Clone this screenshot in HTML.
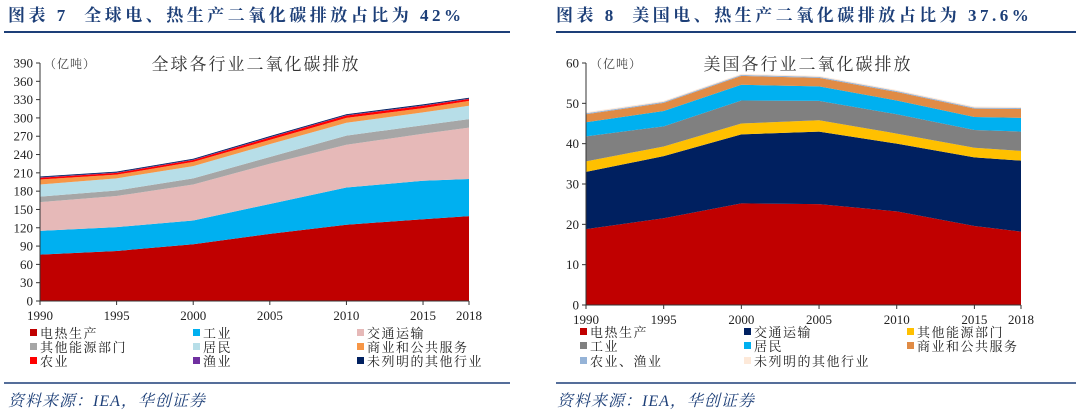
<!DOCTYPE html>
<html><head><meta charset="utf-8"><style>
body{margin:0;background:#fff;width:1080px;height:413px;overflow:hidden;font-family:"Liberation Serif","Noto Serif CJK SC",serif}
svg{position:absolute;left:0;top:0}
</style></head><body>
<svg id="s" width="1080" height="413" font-family="'Liberation Serif','Noto Serif CJK SC',serif">
<text x="8" y="21" font-size="17" font-weight="bold" fill="#1d3f78" letter-spacing="3.5">图表&#160;7&#160;&#160;全球电、热生产二氧化碳排放占比为&#160;42%</text>
<line x1="4" y1="32" x2="510" y2="32" stroke="#1d3f78" stroke-width="2"/>
<text x="556" y="21" font-size="17" font-weight="bold" fill="#1d3f78" letter-spacing="3.5">图表&#160;8&#160;&#160;美国电、热生产二氧化碳排放占比为&#160;37.6%</text>
<line x1="556" y1="32" x2="1076" y2="32" stroke="#1d3f78" stroke-width="2"/>
<line x1="4" y1="383" x2="510" y2="383" stroke="#1d3f78" stroke-width="1.5"/>
<line x1="556" y1="383" x2="1076" y2="383" stroke="#1d3f78" stroke-width="1.5"/>
<text x="8" y="406" font-size="16" font-style="italic" fill="#1d3f78" letter-spacing="1">资料来源：IEA，华创证券</text>
<text x="557" y="406" font-size="16" font-style="italic" fill="#1d3f78" letter-spacing="1">资料来源：IEA，华创证券</text>
</svg>
<script>
const years=[1990,1995,2000,2005,2010,2015,2018];
// Global sectors (亿吨)
const gElec=[76,82,93,110,125,134,139];
const gIndustry=[39,39,39,49,61,63,61];
const gTransport=[47,51,59,66,70,77,84];
const gOtherEnergy=[9,9,10,11,15,14,14];
const gResidential=[20,20,20,21,21,21,22];
const gCommercial=[8,6,7,7,8,7,8];
const gAgri=[3,3,3,4,4,4,3];
const gFishing=[0.6,0.6,0.6,0.6,0.6,0.6,0.6];
const gUnspec=[1.5,1.5,1.5,1.5,1.5,1.5,1.5];
const gTicks=[0,30,60,90,120,150,180,210,240,270,300,330,360,390];
// US sectors (亿吨)
const uElec=[18.8,21.5,25.2,25,23.2,19.6,18.2];
const uTransport=[14.2,15.4,17.1,18,16.8,17,17.6];
const uOtherEnergy=[2.6,2.4,2.7,2.8,2.5,2.4,2.4];
const uIndustry=[6.2,5,5.7,4.8,4.8,4.4,4.8];
const uResidential=[3.5,3.8,3.9,3.6,3.4,3.2,3.4];
const uCommercial=[2,2,2.2,2.1,2.1,2.1,2.2];
const uAgri=[0.25,0.25,0.25,0.25,0.25,0.25,0.25];
const uUnspec=[0.25,0.25,0.25,0.25,0.25,0.25,0.25];
const uTicks=[0,10,20,30,40,50,60];

const NS='http://www.w3.org/2000/svg';
const svg=document.getElementById('s');
function mk(tag,attrs,parent){const e=document.createElementNS(NS,tag);for(const k in attrs)e.setAttribute(k,attrs[k]);(parent||svg).appendChild(e);return e;}

function chart(prefix,cfg){
  const g=mk('g',{});
  
  
  const x=v=>cfg.x0+(v-years[0])/(years[years.length-1]-years[0])*(cfg.x1-cfg.x0);
  const y=v=>cfg.y0-(v/cfg.max)*(cfg.y0-cfg.yTop);
  let base=years.map(()=>0);
  cfg.series.forEach(s=>{
    const top=base.map((b,i)=>b+s.data[i]);
    let d='M'+years.map((yr,i)=>x(yr)+','+y(top[i])).join(' L');
    for(let i=years.length-1;i>=0;i--)d+=' L'+x(years[i])+','+y(base[i]);
    const p=mk('path',{d:d+'Z',fill:s.color},g);
    
    
    base=top;
  });
  const ax=mk('line',{x1:cfg.x0,y1:cfg.y0,x2:cfg.x0,y2:cfg.yTop,stroke:'#333','stroke-width':1},g);
  
  
  const bx=mk('line',{x1:cfg.x0,y1:cfg.y0,x2:cfg.x1,y2:cfg.y0,stroke:'#333','stroke-width':1},g);
  
  
  cfg.ticks.forEach(t=>{
    mk('line',{x1:cfg.x0-4,x2:cfg.x0,y1:y(t),y2:y(t),stroke:'#333'},g);
    const tx=mk('text',{x:cfg.x0-7,y:y(t)+4.5,'text-anchor':'end','font-size':13,fill:'#222'},g);
    tx.textContent=t;
    
    
  });
  years.forEach(yr=>{
    mk('line',{x1:x(yr),x2:x(yr),y1:cfg.y0,y2:cfg.y0+4,stroke:'#333'},g);
    const tx=mk('text',{x:x(yr),y:cfg.y0+19,'text-anchor':'middle','font-size':13,fill:'#222'},g);
    tx.textContent=yr;
    
    
  });
  const u=mk('text',{x:cfg.x0+4,y:cfg.yTop+5,'font-size':12,fill:'#444','letter-spacing':1},g);
  u.textContent='（亿吨）';
  
  
  const t=mk('text',{x:cfg.titleX,y:cfg.yTop+7,'text-anchor':'middle','font-size':17,fill:'#333','letter-spacing':2},g);
  t.textContent=cfg.title;
  
  
  cfg.legendOrder.forEach((s,i)=>{
    const lx=cfg.legX[i%3], ly=cfg.legY[Math.floor(i/3)];
    mk('rect',{x:lx,y:ly-4,width:7,height:7,fill:s.color},g);
    const lt=mk('text',{x:lx+10,y:ly+5,'font-size':13,fill:'#222','letter-spacing':1.5},g);
    lt.textContent=s.name;
    
    
  });
}

const gS={elec:{key:'electricity-heat',name:'电热生产',data:gElec,color:'#c00000'},
 ind:{key:'industry',name:'工业',data:gIndustry,color:'#00b0f0'},
 tr:{key:'transport',name:'交通运输',data:gTransport,color:'#e6b9b8'},
 oe:{key:'other-energy',name:'其他能源部门',data:gOtherEnergy,color:'#a6a6a6'},
 res:{key:'residential',name:'居民',data:gResidential,color:'#b7dee8'},
 com:{key:'commercial',name:'商业和公共服务',data:gCommercial,color:'#f79646'},
 ag:{key:'agriculture',name:'农业',data:gAgri,color:'#ff0000'},
 fi:{key:'fishing',name:'渔业',data:gFishing,color:'#7030a0'},
 un:{key:'unspecified',name:'未列明的其他行业',data:gUnspec,color:'#002060'}};
chart('global',{x0:40,x1:469,y0:301,yTop:63,max:390,ticks:gTicks,title:'全球各行业二氧化碳排放',titleX:256,
 series:[gS.elec,gS.ind,gS.tr,gS.oe,gS.res,gS.com,gS.ag,gS.fi,gS.un],
 legendOrder:[gS.elec,gS.ind,gS.tr,gS.oe,gS.res,gS.com,gS.ag,gS.fi,gS.un],
 legX:[30,193,357],legY:[333,347,361]});

const uS={elec:{key:'electricity-heat',name:'电热生产',data:uElec,color:'#c00000'},
 tr:{key:'transport',name:'交通运输',data:uTransport,color:'#002060'},
 oe:{key:'other-energy',name:'其他能源部门',data:uOtherEnergy,color:'#ffc000'},
 ind:{key:'industry',name:'工业',data:uIndustry,color:'#808080'},
 res:{key:'residential',name:'居民',data:uResidential,color:'#00b0f0'},
 com:{key:'commercial',name:'商业和公共服务',data:uCommercial,color:'#e08b45'},
 ag:{key:'agriculture-fishing',name:'农业、渔业',data:uAgri,color:'#95b3d7'},
 un:{key:'unspecified',name:'未列明的其他行业',data:uUnspec,color:'#fde9d9'}};
chart('us',{x0:586,x1:1021,y0:305,yTop:63,max:60,ticks:uTicks,title:'美国各行业二氧化碳排放',titleX:808,
 series:[uS.elec,uS.tr,uS.oe,uS.ind,uS.res,uS.com,uS.ag,uS.un],
 legendOrder:[uS.elec,uS.tr,uS.oe,uS.ind,uS.res,uS.com,uS.ag,uS.un],
 legX:[580,744,907],legY:[332,346,361]});
</script>
</body></html>
